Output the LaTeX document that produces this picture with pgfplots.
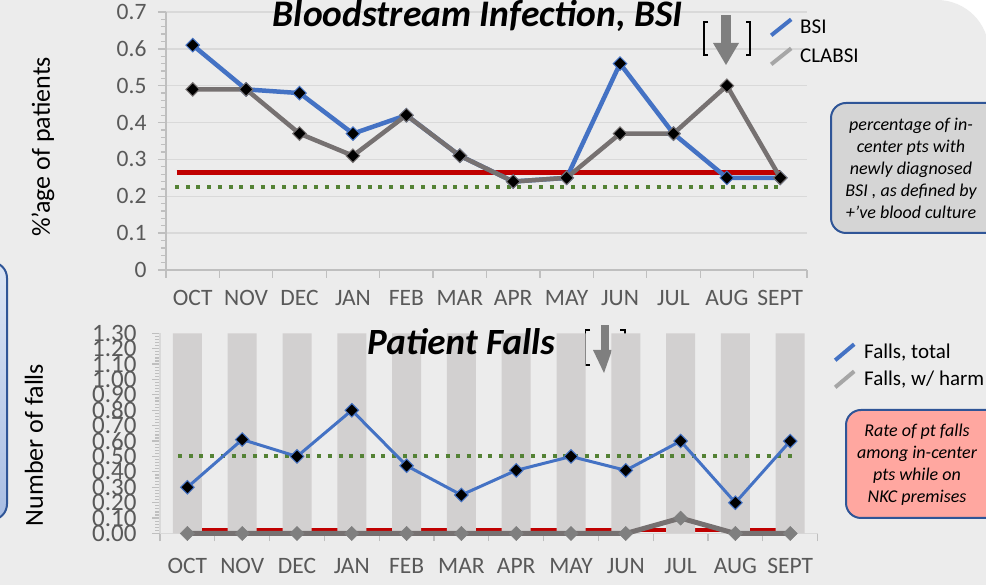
\documentclass[border=0pt]{standalone}
\usepackage{pgfplots}
\pgfplotsset{compat=1.18}
\usepackage{fontspec}
\setmainfont{Carlito}
\definecolor{bg}{HTML}{ECECEC}
\definecolor{barcol}{HTML}{D2D0D0}
\definecolor{bsiblue}{HTML}{4472C4}
\definecolor{sergrey}{HTML}{767171}
\definecolor{markgrey}{HTML}{7F7F7F}
\definecolor{leggrey}{HTML}{A6A6A6}
\definecolor{redline}{HTML}{C00000}
\definecolor{greenline}{HTML}{548235}
\definecolor{ticklab}{HTML}{595959}
\definecolor{axgrey}{HTML}{BFBFBF}
\definecolor{gridgrey}{HTML}{D9D9D9}
\definecolor{boxblue}{HTML}{2F5597}
\definecolor{boxgrey}{HTML}{D5D5D5}
\definecolor{salmon}{HTML}{FFA7A0}
\definecolor{leftTop}{HTML}{DCE5F4}
\definecolor{leftBot}{HTML}{A8BDE3}
\begin{document}
\begin{tikzpicture}
\useasboundingbox (0pt,0pt) rectangle (986pt,585pt);
\clip (0pt,0pt) rectangle (986pt,585pt);
\fill[bg] (0pt,0pt) rectangle (986pt,585pt);
\fill[white] (937pt,533pt) rectangle (986pt,585pt);
\fill[bg] (937pt,533pt) circle (52pt);
% left box
\draw[draw=boxblue, line width=2pt, rounded corners=16pt, top color=leftTop, bottom color=leftBot] (-40pt,65pt) rectangle (7pt,323pt);
% bottom arrow symbol (behind bars)
\fill[markgrey] (600.5pt,260pt) rectangle (608.5pt,235pt);
\fill[markgrey] (593pt,235pt) -- (612pt,235pt) -- (604pt,212pt) -- cycle;
\draw[black, line width=1.6pt] (590pt,255pt) -- (585.5pt,255pt) -- (585.5pt,220pt) -- (590pt,220pt);
\draw[black, line width=1.6pt] (620pt,255pt) -- (625pt,255pt) -- (625pt,220pt) -- (620pt,220pt);

% ---------------- top chart ----------------
\begin{axis}[
  at={(166pt,315pt)}, anchor=south west,
  scale only axis, width=641pt, height=258pt,
  xmin=0.5, xmax=12.5, ymin=0, ymax=0.7,
  clip=false,
  axis x line*=bottom, axis y line*=left,
  axis line style={draw=axgrey, line width=1.5pt, -},
  xtick={0.5,1.5,2.5,3.5,4.5,5.5,6.5,7.5,8.5,9.5,10.5,11.5,12.5},
  x tick label as interval,
  xticklabels={OCT,NOV,DEC,JAN,FEB,MAR,APR,MAY,JUN,JUL,AUG,SEPT},
  ytick={0,0.1,0.2,0.3,0.4,0.5,0.6,0.7},
  yticklabels={0,0.1,0.2,0.3,0.4,0.5,0.6,0.7},
  minor y tick num=4,
  ymajorgrids, major grid style={draw=gridgrey, line width=1.3pt},
  tick align=outside, major tick length=8pt, minor tick length=5pt,
  every tick/.style={draw=axgrey, line width=1.3pt},
  x tick label style={font=\fontsize{23.5}{23.5}\selectfont, text=ticklab, yshift=-9pt},
  y tick label style={font=\fontsize{23.5}{23.5}\selectfont, text=ticklab, xshift=-8pt},
  title={Bloodstream Infection, BSI},
  title style={at={(axis description cs:0.4867,0.9186)}, anchor=base, font=\bfseries\itshape\fontsize{37.5}{37.5}\selectfont},
  ylabel={\%’age of patients},
  ylabel style={at={(axis description cs:-0.192,0.477)}, anchor=center, font=\fontsize{26}{26}\selectfont},
  legend style={at={(axis description cs:0.9407,0.98)}, anchor=north west, draw=none, fill=none, inner sep=0pt, row sep=9pt, font=\fontsize{21}{21}\selectfont, text=black, cells={anchor=west}},
  legend image code/.code={\draw[#1] (0pt,-8pt) -- (20pt,8pt); \path (25pt,0pt);},
]
\addplot[redline, line width=5pt, forget plot] coordinates {(0.7,0.265) (12.0,0.265)};
\addplot[greenline, line width=4pt, dash pattern=on 4pt off 6.7pt, forget plot] coordinates {(0.67,0.224) (11.96,0.224)};
\addplot[bsiblue, line width=4.5pt, mark=square*, mark size=4.8pt, mark options={rotate=45, fill=black, draw=bsiblue, line width=1pt, solid}, forget plot]
  coordinates {(1,0.61) (2,0.49) (3,0.48) (4,0.37) (5,0.42) (6,0.31) (7,0.24) (8,0.25) (9,0.56) (10,0.37) (11,0.25) (12,0.25)};
\addplot[sergrey, line width=4.5pt, mark=square*, mark size=4.8pt, mark options={rotate=45, fill=black, draw=sergrey, line width=1pt, solid}, forget plot]
  coordinates {(1,0.49) (2,0.49) (3,0.37) (4,0.31) (5,0.42) (6,0.31) (7,0.24) (8,0.25) (9,0.37) (10,0.37) (11,0.50) (12,0.25)};
\addlegendimage{bsiblue, line width=4pt}
\addlegendentry{BSI}
\addlegendimage{leggrey, line width=4pt}
\addlegendentry{CLABSI}
\end{axis}

% ---------------- bottom chart ----------------
\begin{axis}[
  at={(160pt,51.5pt)}, anchor=south west,
  scale only axis, width=657.6pt, height=200.2pt,
  xmin=0.5, xmax=12.5, ymin=0, ymax=1.3,
  clip=false,
  axis x line*=bottom, axis y line*=left,
  axis line style={draw=gridgrey, line width=1.5pt, -},
  xtick={0.5,1.5,2.5,3.5,4.5,5.5,6.5,7.5,8.5,9.5,10.5,11.5,12.5},
  x tick label as interval,
  xticklabels={OCT,NOV,DEC,JAN,FEB,MAR,APR,MAY,JUN,JUL,AUG,SEPT},
  ytick={0,0.1,0.2,0.3,0.4,0.5,0.6,0.7,0.8,0.9,1.0,1.1,1.2,1.3},
  yticklabels={0.00,0.10,0.20,0.30,0.40,0.50,0.60,0.70,0.80,0.90,1.00,1.10,1.20,1.30},
  minor y tick num=4,
  tick align=outside, major tick length=8pt, minor tick length=5pt,
  every tick/.style={draw=axgrey, line width=1.2pt},
  y tick label style={font=\fontsize{25}{25}\selectfont, text=ticklab, xshift=-12pt},
  x tick label style={font=\fontsize{23.5}{23.5}\selectfont, text=ticklab, yshift=-13pt},
  title={Patient Falls},
  title style={at={(axis description cs:0.4577,0.8666)}, anchor=base, font=\bfseries\itshape\fontsize{37}{37}\selectfont},
  ylabel={Number of falls},
  ylabel style={at={(axis description cs:-0.1916,0.442)}, anchor=center, font=\fontsize{26}{26}\selectfont},
  legend style={at={(axis description cs:1.0234,0.9565)}, anchor=north west, draw=none, fill=none, inner sep=0pt, row sep=7pt, font=\fontsize{21}{21}\selectfont, text=black, cells={anchor=west}},
  legend image code/.code={\draw[#1] (0pt,-8pt) -- (19pt,8pt); \path (25pt,0pt);},
]
\addplot[redline, line width=4pt, forget plot] coordinates {(1,0.025) (12,0.025)};
\addplot[ybar, bar width=29pt, bar shift=0pt, fill=barcol, draw=none, forget plot]
  coordinates {(1,1.3) (2,1.3) (3,1.3) (4,1.3) (5,1.3) (6,1.3) (7,1.3) (8,1.3) (9,1.3) (10,1.3) (11,1.3) (12,1.3)};
\addplot[greenline, line width=4pt, dash pattern=on 4pt off 6.7pt, forget plot] coordinates {(0.83,0.5) (12.03,0.5)};
\addplot[sergrey, line width=5pt, mark=square*, mark size=5pt, mark options={rotate=45, fill=markgrey, draw=markgrey, line width=0.5pt, solid}, forget plot]
  coordinates {(1,0) (2,0) (3,0) (4,0) (5,0) (6,0) (7,0) (8,0) (9,0) (10,0.1) (11,0) (12,0)};
\addplot[bsiblue, line width=3pt, mark=square*, mark size=4.8pt, mark options={rotate=45, fill=black, draw=bsiblue, line width=1pt, solid}, forget plot]
  coordinates {(1,0.30) (2,0.61) (3,0.50) (4,0.80) (5,0.44) (6,0.25) (7,0.41) (8,0.50) (9,0.41) (10,0.60) (11,0.20) (12,0.60)};
\addlegendimage{bsiblue, line width=4pt}
\addlegendentry{Falls, total}
\addlegendimage{leggrey, line width=4pt}
\addlegendentry{Falls, w/ harm}
\end{axis}

% top arrow symbol
\fill[markgrey] (721pt,570pt) rectangle (731pt,542pt);
\fill[markgrey] (713pt,542pt) -- (739pt,542pt) -- (726pt,520pt) -- cycle;
\draw[black, line width=1.8pt] (708pt,563pt) -- (704pt,563pt) -- (704pt,530pt) -- (708pt,530pt);
\draw[black, line width=1.8pt] (746pt,563pt) -- (750pt,563pt) -- (750pt,530pt) -- (746pt,530pt);

% text boxes
\draw[draw=boxblue, line width=2pt, fill=boxgrey, rounded corners=15pt] (831pt,482pt) rectangle (1010pt,352pt);
\node[align=center, font=\itshape\fontsize{18}{22}\selectfont, text=black] at (911pt,417pt)
  {percentage of in-\\center pts with\\newly diagnosed\\BSI , as defined by\\+’ve blood culture};
\draw[draw=boxblue, line width=2pt, fill=salmon, rounded corners=15pt] (846pt,175pt) rectangle (1010pt,67pt);
\node[align=center, font=\itshape\fontsize{18}{22}\selectfont, text=black] at (917pt,120pt)
  {Rate of pt falls\\among in-center\\pts while on\\NKC premises};
\end{tikzpicture}
\end{document}
